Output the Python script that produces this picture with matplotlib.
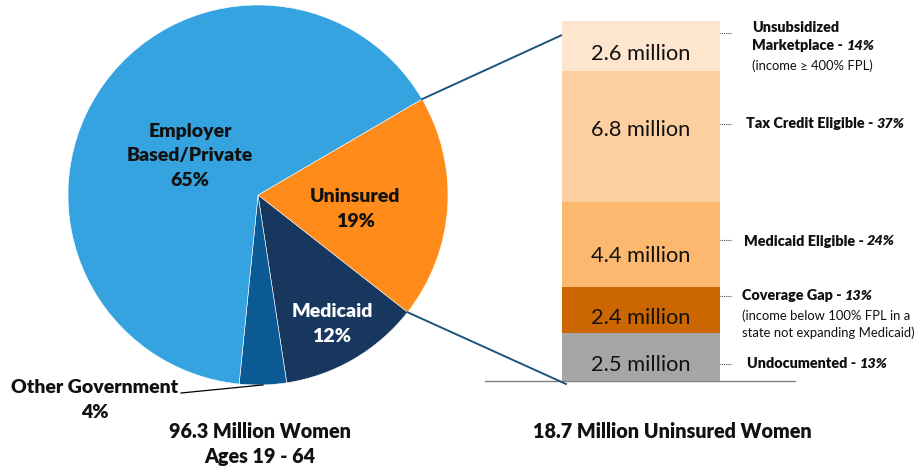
import matplotlib
matplotlib.use("Agg")
import matplotlib.pyplot as plt
import numpy as np

plt.rcParams['font.family'] = ['Lato', 'DejaVu Sans']
BOLD = "heavy"

# Insurance coverage of women ages 19-64 (percent)
pie_labels = ["Uninsured\n19%", "Medicaid\n12%", "Other Government\n4%", "Employer\nBased/Private\n65%"]
pie_values = [19, 12, 4, 65]
pie_colors = ["#FF8C1A", "#17375E", "#0B5A94", "#35A3E0"]
pie_text_colors = ["#111111", "white", "#111111", "#111111"]

# Breakdown of uninsured women (millions), bottom to top
bar_names = ["Undocumented", "Coverage Gap", "Medicaid Eligible", "Tax Credit Eligible", "Unsubsidized\nMarketplace"]
bar_values = [2.5, 2.4, 4.4, 6.8, 2.6]
bar_shares = ["13%", "13%", "24%", "37%", "14%"]
bar_notes = ["", "(income below 100% FPL in a\nstate not expanding Medicaid)", "", "", "(income \u2265 400% FPL)"]
bar_colors = ["#A6A6A6", "#CC6600", "#FDB870", "#FDCFA0", "#FDE5CE"]

W, H = 919, 468
fig = plt.figure(figsize=(W / 100, H / 100), dpi=100)
ax = fig.add_axes([0, 0, 1, 1])
ax.set_xlim(0, W)
ax.set_ylim(0, H)
ax.axis("off")

# ---- pie ----
cx, cy, r = 258, 273, 190
wedges, _ = ax.pie(pie_values, colors=pie_colors, startangle=30.3, counterclock=False,
                   center=(cx, cy), radius=r,
                   wedgeprops=dict(edgecolor="white", linewidth=0.4))
ax.set_xlim(0, W)
ax.set_ylim(0, H)
ax.set_aspect("auto")

label_pos = [(355, 259), (332, 144), (95, 68), (190, 312)]
for lab, (x, y), c in zip(pie_labels, label_pos, pie_text_colors):
    ax.text(x, y, lab, ha="center", va="center", fontsize=14, fontweight=BOLD,
            color=c, linespacing=1.55)

# leader for the small slice
og = wedges[2]
mid = np.deg2rad((og.theta1 + og.theta2) / 2)
ax.plot([181, cx + r * np.cos(mid)], [75, cy + r * np.sin(mid)], color="black", lw=0.9)

ax.text(260, 36, "96.3 Million Women", ha="center", va="center", fontsize=14.2, fontweight=BOLD, color="#111111")
ax.text(260, 12, "Ages 19 - 64", ha="center", va="center", fontsize=14.2, fontweight=BOLD, color="#111111")

# ---- stacked bar ----
bx0, bx1, by0, by1 = 562, 720, 87, 447
ax2 = fig.add_axes([bx0 / W, by0 / H, (bx1 - bx0) / W, (by1 - by0) / H])
total = sum(bar_values)
ax2.set_xlim(0, 1)
ax2.set_ylim(0, total)
ax2.axis("off")
bottoms = np.concatenate([[0], np.cumsum(bar_values)[:-1]])
ax2.bar(0.5, bar_values, width=1.0, bottom=bottoms, color=bar_colors, linewidth=0)
value_offsets = [-0.42, -0.45, -0.6, 0.35, -0.42]
for v, b, off in zip(bar_values, bottoms, value_offsets):
    ax2.text(0.5, b + v / 2 + off, f"{v} million", ha="center", va="center", fontsize=15.7, color="#111111")

ax.plot([485, 795], [87, 87], color="#808080", lw=1.0)
ax.text(672, 36, "18.7 Million Uninsured Women", ha="center", va="center", fontsize=14.2,
        fontweight=BOLD, color="#111111")

# side labels with dotted leaders
leader_y = [104, 172, 228, 344, 435]
text_y = [104, 172, 227, 344, 441]
label_x = [747, 742, 744, 746, 752]
renderer = fig.canvas.get_renderer()
for name, share, note, ly, y, x in zip(bar_names, bar_shares, bar_notes, leader_y, text_y, label_x):
    ax.plot([719, 731], [ly, ly], color="#444444", lw=0.8, linestyle=(0, (1, 1)))
    lines = name.split("\n")
    yy = y
    for i, ln in enumerate(lines):
        last = i == len(lines) - 1
        t = ax.text(x, yy, ln + (" - " if last else ""), ha="left", va="center", fontsize=10.4,
                    fontweight=BOLD, color="#111111")
        if last:
            bb = t.get_window_extent(renderer)
            ax.text(bb.x1, yy, share, ha="left", va="center", fontsize=10.4, fontweight=BOLD,
                    style="italic", color="#111111")
        else:
            yy -= 19
    yy -= 3
    if note:
        for nl in note.split("\n"):
            yy -= 17
            ax.text(x, yy, nl, ha="left", va="center", fontsize=9.4, color="#111111")

# connectors from the uninsured slice to the bar
un = wedges[0]
for ang, (px, py) in zip([un.theta2, un.theta1], [(bx0, by1 - 14), (bx0 + 4, by0 - 3)]):
    a = np.deg2rad(ang)
    ax.plot([cx + r * np.cos(a), px], [cy + r * np.sin(a), py], color="#1B557F", lw=1.4)

fig.savefig("out.png", dpi=100)
